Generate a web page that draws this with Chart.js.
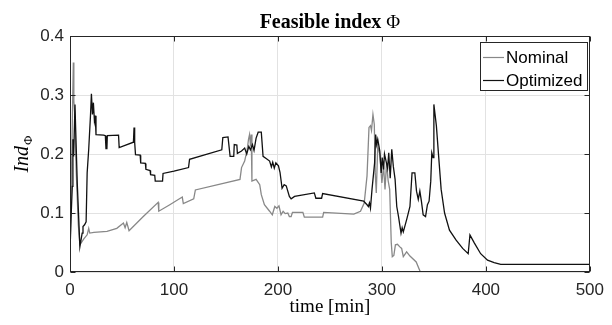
<!DOCTYPE html>
<html>
<head>
<meta charset="utf-8">
<script src="https://cdn.jsdelivr.net/npm/chart.js@4.4.0/dist/chart.umd.min.js"></script>
<style>
  html, body { margin: 0; padding: 0; background: #fff; }
  #wrap { width: 612px; height: 325px; }
</style>
</head>
<body>
<div id="wrap"><canvas id="chart" width="612" height="325"></canvas></div>
<script>
// time [min] and index values
const nominalTime = [0, 1.2, 2.2, 3.2, 3.7, 4.5, 6, 8, 9.5, 13.3, 16.5, 18, 19, 23, 35.6, 45, 51.4, 53, 54.6, 56.8, 70.5, 84.8, 85.4, 96, 108, 109, 119, 120.6, 163.5, 165, 168, 170.5, 171.7, 172.7, 173.7, 174.3, 175, 179, 182.5, 184, 187, 192, 194.6, 197, 199, 201, 203, 205, 207, 209.5, 211, 212.7, 214, 224, 225.4, 243, 244, 273, 279.4, 283, 285.7, 287.6, 289, 290, 291.4, 292.7, 293.6, 294.6, 296, 298, 300, 301.6, 303, 304.5, 306, 307.5, 309, 310, 311.5, 313, 315, 317, 319, 320.6, 323.8, 327, 333, 337, 500];
const nominalValue = [0.03, 0.14, 0.25, 0.355, 0.29, 0.27, 0.17, 0.08, 0.046, 0.056, 0.063, 0.074, 0.066, 0.067, 0.069, 0.074, 0.083, 0.075, 0.084, 0.07, 0.094, 0.118, 0.103, 0.114, 0.127, 0.116, 0.124, 0.139, 0.157, 0.177, 0.188, 0.208, 0.225, 0.233, 0.213, 0.233, 0.154, 0.157, 0.148, 0.131, 0.114, 0.103, 0.097, 0.111, 0.108, 0.112, 0.097, 0.103, 0.099, 0.1, 0.094, 0.094, 0.101, 0.101, 0.093, 0.093, 0.101, 0.098, 0.103, 0.117, 0.163, 0.245, 0.248, 0.24, 0.267, 0.25, 0.168, 0.134, 0.213, 0.2, 0.151, 0.18, 0.14, 0.185, 0.155, 0.14, 0.05, 0.026, 0.028, 0.046, 0.047, 0.043, 0.04, 0.026, 0.034, 0.027, 0.017, 0, 0];

const optimizedTime = [0, 1.2, 2.2, 2.8, 3.5, 4.8, 5.5, 7, 9.5, 11.7, 12.5, 14, 15.5, 16.5, 18, 19.7, 20.6, 21.6, 22.5, 23.5, 24.3, 25, 32.4, 34, 34.6, 35.5, 35.9, 46.7, 47.3, 61, 61.6, 62.2, 63, 67.5, 68, 72.5, 73, 77, 77.5, 81.5, 82, 89, 89.5, 100, 114, 115, 146, 147, 152, 154, 157.5, 158, 160.5, 161, 165, 168, 170, 172, 173.5, 175.5, 177, 179, 181, 184, 185.7, 189, 192, 193.7, 195, 196.5, 198, 200.5, 202, 204, 206, 208, 211, 212.7, 216, 235, 236.5, 242, 243, 282.5, 285.7, 287, 288, 289, 290.5, 293, 294, 295, 296, 298, 299.3, 300.3, 301.6, 302.5, 304, 305.5, 306.6, 308, 309.5, 311, 312.7, 314.3, 316, 318.4, 319.5, 320.6, 324, 327, 329, 331.7, 333.3, 335, 336.5, 338, 339.7, 342, 343.8, 345.4, 347, 348, 349.2, 350, 352.4, 354.6, 357, 360.3, 365, 371.4, 377.7, 383, 384.7, 389, 395, 401.6, 408, 414.3, 500];
const optimizedValue = [0.035, 0.1, 0.145, 0.225, 0.196, 0.284, 0.24, 0.15, 0.043, 0.066, 0.077, 0.08, 0.085, 0.168, 0.208, 0.265, 0.302, 0.267, 0.287, 0.256, 0.265, 0.233, 0.232, 0.231, 0.209, 0.209, 0.231, 0.232, 0.211, 0.22, 0.245, 0.22, 0.199, 0.198, 0.185, 0.184, 0.174, 0.172, 0.165, 0.164, 0.154, 0.154, 0.167, 0.171, 0.177, 0.191, 0.207, 0.228, 0.229, 0.196, 0.196, 0.216, 0.215, 0.201, 0.205, 0.21, 0.2, 0.213, 0.207, 0.216, 0.206, 0.227, 0.237, 0.237, 0.196, 0.192, 0.188, 0.178, 0.186, 0.176, 0.185, 0.18, 0.169, 0.142, 0.148, 0.146, 0.128, 0.124, 0.128, 0.134, 0.125, 0.125, 0.133, 0.12, 0.114, 0.111, 0.117, 0.108, 0.14, 0.185, 0.233, 0.216, 0.225, 0.205, 0.168, 0.194, 0.174, 0.2, 0.188, 0.176, 0.202, 0.159, 0.208, 0.179, 0.157, 0.111, 0.094, 0.066, 0.075, 0.068, 0.09, 0.111, 0.168, 0.168, 0.137, 0.123, 0.137, 0.12, 0.097, 0.094, 0.114, 0.12, 0.154, 0.202, 0.194, 0.284, 0.248, 0.196, 0.14, 0.1, 0.071, 0.054, 0.04, 0.031, 0.063, 0.049, 0.031, 0.02, 0.016, 0.013, 0.013];

const seriesNames = ["Nominal", "Optimized"];
const xTicks = [0, 100, 200, 300, 400, 500];
const xTickLabels = ["0", "100", "200", "300", "400", "500"];
const yTicks = [0, 0.1, 0.2, 0.3, 0.4];
const yTickLabels = ["0", "0.1", "0.2", "0.3", "0.4"];

const lineColors = ["#888888", "#111111"];
const axisColor = "#262626";

function toPoints(xs, ys) {
  return xs.map((x, i) => ({ x: x, y: ys[i] }));
}

// box around the axes, inward ticks, legend and the texts
const decorations = {
  id: "decorations",
  afterDatasetsDraw(chart) {
    const ctx = chart.ctx;
    const a = chart.chartArea;
    const xs = chart.scales.x, ys = chart.scales.y;
    ctx.save();
    ctx.strokeStyle = axisColor;
    ctx.lineWidth = 1;
    const L = Math.round(a.left) + 0.5, R = Math.round(a.right) - 0.5;
    const T = Math.round(a.top) + 0.5, B = Math.round(a.bottom) - 0.5;
    ctx.strokeRect(L, T, R - L, B - T);
    ctx.beginPath();
    xTicks.forEach(v => {
      const p = Math.round(xs.getPixelForValue(v)) + 0.5;
      ctx.moveTo(p, T); ctx.lineTo(p, T + 5);
      ctx.moveTo(p, B); ctx.lineTo(p, B - 5);
    });
    yTicks.forEach(v => {
      const p = Math.round(ys.getPixelForValue(v)) + 0.5;
      ctx.moveTo(L, p); ctx.lineTo(L + 5, p);
      ctx.moveTo(R, p); ctx.lineTo(R - 5, p);
    });
    ctx.stroke();

    // legend
    const bx = 480.5, by = 42.5, bw = 107, bh = 48;
    ctx.fillStyle = "#ffffff";
    ctx.fillRect(bx, by, bw, bh);
    ctx.strokeStyle = axisColor;
    ctx.strokeRect(bx, by, bw, bh);
    ctx.font = "17px 'Liberation Sans', Arial, sans-serif";
    ctx.textBaseline = "middle";
    ctx.textAlign = "left";
    seriesNames.forEach((name, i) => {
      const cy = 57 + i * 23;
      ctx.strokeStyle = lineColors[i];
      ctx.lineWidth = 1.2;
      ctx.beginPath();
      ctx.moveTo(483, cy + 0.5); ctx.lineTo(504, cy + 0.5);
      ctx.stroke();
      ctx.fillStyle = "#000";
      ctx.fillText(name, 506, cy + 1);
    });
    ctx.restore();
  },
  afterDraw(chart) {
    const ctx = chart.ctx;
    const a = chart.chartArea;
    const cx = (a.left + a.right) / 2;
    ctx.save();
    ctx.fillStyle = "#000";
    ctx.textBaseline = "alphabetic";

    // title: bold words, upright Phi
    const fBold = "bold 20px 'Liberation Serif', 'Times New Roman', serif";
    const fReg = "19px 'Liberation Serif', 'Times New Roman', serif";
    const t1 = "Feasible index ", t2 = "\u03A6";
    ctx.font = fBold; const w1 = ctx.measureText(t1).width;
    ctx.font = fReg; const w2 = ctx.measureText(t2).width;
    let x0 = cx - (w1 + w2) / 2;
    ctx.font = fBold; ctx.textAlign = "left"; ctx.fillText(t1, x0, 28);
    ctx.font = fReg; ctx.fillText(t2, x0 + w1, 28);

    // x axis title
    ctx.font = "19px 'Liberation Serif', 'Times New Roman', serif";
    ctx.textAlign = "center";
    ctx.fillText("time [min]", cx, 312);

    // y axis title: Ind with subscript Phi
    ctx.translate(28, (a.top + a.bottom) / 2);
    ctx.rotate(-Math.PI / 2);
    const fI = "italic 20px 'Liberation Serif', 'Times New Roman', serif";
    const fS = "13px 'Liberation Serif', 'Times New Roman', serif";
    ctx.font = fI; const wi = ctx.measureText("Ind").width;
    ctx.font = fS; const ws = ctx.measureText("\u03A6").width;
    const sx = -(wi + ws + 1) / 2;
    ctx.textAlign = "left";
    ctx.font = fI; ctx.fillText("Ind", sx, 0);
    ctx.font = fS; ctx.fillText("\u03A6", sx + wi + 1, 4);
    ctx.restore();
  }
};

new Chart(document.getElementById("chart"), {
  type: "line",
  data: {
    datasets: [
      {
        label: seriesNames[0],
        data: toPoints(nominalTime, nominalValue),
        borderColor: lineColors[0],
        borderWidth: 1.3,
        pointRadius: 0,
        tension: 0,
        order: 1
      },
      {
        label: seriesNames[1],
        data: toPoints(optimizedTime, optimizedValue),
        borderColor: lineColors[1],
        borderWidth: 1.3,
        pointRadius: 0,
        tension: 0,
        order: 0
      }
    ]
  },
  options: {
    responsive: false,
    animation: false,
    layout: { padding: { top: 36, right: 17, left: 0, bottom: 0 } },
    plugins: {
      legend: { display: false },
      title: { display: false },
      tooltip: { enabled: false }
    },
    scales: {
      x: {
        type: "linear",
        min: 0,
        max: 500,
        afterBuildTicks: s => { s.ticks = xTicks.map(v => ({ value: v })); },
        afterFit: s => { s.height = 53; },
        grid: { color: "#e2e2e2", drawTicks: false },
        border: { display: false },
        ticks: {
          padding: 8,
          maxRotation: 0,
          color: axisColor,
          font: { family: "'Liberation Sans', Arial, sans-serif", size: 17 },
          callback: (v, i) => xTickLabels[i]
        }
      },
      y: {
        type: "linear",
        min: 0,
        max: 0.4,
        afterBuildTicks: s => { s.ticks = yTicks.map(v => ({ value: v })); },
        afterFit: s => { s.width = 70; },
        grid: { color: "#e2e2e2", drawTicks: false },
        border: { display: false },
        ticks: {
          padding: 6,
          color: axisColor,
          font: { family: "'Liberation Sans', Arial, sans-serif", size: 17 },
          callback: (v, i) => yTickLabels[i]
        }
      }
    }
  },
  plugins: [decorations]
});
</script>
</body>
</html>
